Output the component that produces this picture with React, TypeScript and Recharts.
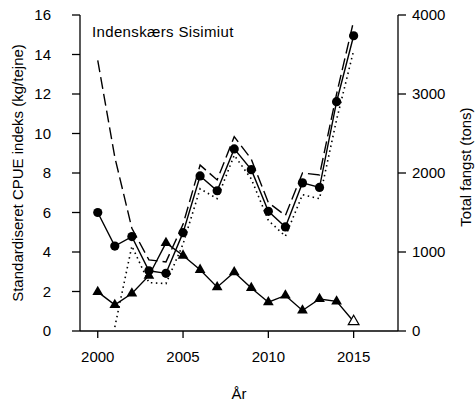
import React from 'react';
import { ComposedChart, Line, XAxis, YAxis, Label } from 'recharts';

const YEARS = [2000, 2001, 2002, 2003, 2004, 2005, 2006, 2007, 2008, 2009, 2010, 2011, 2012, 2013, 2014, 2015];
// standardised CPUE index (kg/tejne)
const CPUE = [6.0, 4.3, 4.78, 3.05, 2.92, 4.98, 7.85, 7.1, 9.22, 8.17, 6.06, 5.27, 7.5, 7.27, 11.61, 14.95];
const CPUE_UPPER = [13.7, 8.8, 5.2, 3.6, 3.5, 5.4, 8.4, 7.65, 9.84, 8.7, 6.5, 5.85, 8.0, 7.9, 12.0, 15.7];
const CPUE_LOWER = [null, 0.2, 4.3, 2.45, 2.4, 4.4, 7.2, 6.7, 8.9, 7.7, 5.6, 4.8, 6.9, 6.7, 10.7, 14.2];
// total catch (tons)
const CATCH = [495, 330, 475, 700, 1115, 955, 775, 555, 745, 545, 365, 450, 260, 405, 375, 120];

const YEAR_TICKS = [2000, 2005, 2010, 2015];
const CPUE_TICKS = [0, 2, 4, 6, 8, 10, 12, 14, 16];
const CATCH_TICKS = [0, 1000, 2000, 3000, 4000];

const data = YEARS.map((year, i) => ({
    year,
    cpue: CPUE[i],
    upper: CPUE_UPPER[i],
    lower: CPUE_LOWER[i],
    catch: CATCH[i],
}));

const FONT = '"Liberation Sans", Arial, sans-serif';
const axisStroke = { stroke: '#000', strokeWidth: 1.3 };
const tickText = { fill: '#000', fontSize: 15, fontFamily: FONT };

const CircleDot = (props: any) => {
    const { cx, cy, index } = props;
    if (cx == null || cy == null) return null;
    return <circle key={`c-${index}`} cx={cx} cy={cy} r={4.6} fill="#000" />;
};

// R-style triangle (pch 17 / pch 2 for the last, open one)
const TriangleDot = (props: any) => {
    const { cx, cy, index } = props;
    if (cx == null || cy == null) return null;
    const open = index === YEARS.length - 1;
    const r = 6.2;
    const xc = r * 0.866;
    const yc = r / 2;
    const pts = `${cx},${cy - r} ${cx + xc},${cy + yc} ${cx - xc},${cy + yc}`;
    return (
        <polygon
            key={`t-${index}`}
            points={pts}
            fill={open ? '#fff' : '#000'}
            stroke="#000"
            strokeWidth={open ? 1.2 : 0}
        />
    );
};

export default function App() {
    return (
        <div style={{ position: 'absolute', left: 0, top: 0, width: 475, height: 403, background: '#fff', fontFamily: FONT }}>
            <ComposedChart width={475} height={403} data={data} margin={{ top: 15, right: 0, bottom: 0, left: 0 }}>
                <XAxis
                    dataKey="year"
                    type="number"
                    domain={[1998.96, 2017.6]}
                    ticks={YEAR_TICKS}
                    allowDataOverflow
                    height={72}
                    tickSize={7}
                    tickMargin={13}
                    axisLine={axisStroke}
                    tickLine={axisStroke}
                    tick={tickText}
                >
                    <Label
                        content={({ viewBox }: any) => (
                            <text
                                x={viewBox.x + viewBox.width / 2}
                                y={viewBox.y + 68}
                                textAnchor="middle"
                                fontSize={15}
                                fontFamily={FONT}
                                fill="#000"
                            >
                                År
                            </text>
                        )}
                    />
                </XAxis>
                <YAxis
                    yAxisId="left"
                    width={80}
                    domain={[0, 16]}
                    ticks={CPUE_TICKS}
                    interval={0}
                    tickSize={8}
                    tickMargin={9}
                    axisLine={axisStroke}
                    tickLine={axisStroke}
                    tick={{ ...tickText, dx: -12 }}
                >
                    <Label
                        content={({ viewBox }: any) => {
                            const cx = viewBox.x + 17.5;
                            const cy = viewBox.y + viewBox.height / 2;
                            return (
                                <text
                                    x={cx}
                                    y={cy}
                                    transform={`rotate(-90, ${cx}, ${cy})`}
                                    textAnchor="middle"
                                    dominantBaseline="central"
                                    fontSize={15}
                                    fontFamily={FONT}
                                    fill="#000"
                                >
                                    Standardiseret CPUE indeks (kg/tejne)
                                </text>
                            );
                        }}
                    />
                </YAxis>
                <YAxis
                    yAxisId="right"
                    orientation="right"
                    width={77}
                    domain={[0, 4000]}
                    ticks={CATCH_TICKS}
                    interval={0}
                    tickSize={8}
                    tickMargin={6}
                    axisLine={axisStroke}
                    tickLine={axisStroke}
                    tick={tickText}
                >
                    <Label
                        content={({ viewBox }: any) => {
                            const cx = viewBox.x + 67;
                            const cy = viewBox.y + viewBox.height / 2 - 6;
                            return (
                                <text
                                    x={cx}
                                    y={cy}
                                    transform={`rotate(-90, ${cx}, ${cy})`}
                                    textAnchor="middle"
                                    dominantBaseline="central"
                                    fontSize={15}
                                    fontFamily={FONT}
                                    fill="#000"
                                >
                                    Total fangst (tons)
                                </text>
                            );
                        }}
                    />
                </YAxis>

                <Line
                    yAxisId="left"
                    type="linear"
                    dataKey="upper"
                    stroke="#000"
                    strokeWidth={1.4}
                    strokeDasharray="12 5"
                    dot={false}
                    activeDot={false}
                    isAnimationActive={false}
                />
                <Line
                    yAxisId="left"
                    type="linear"
                    dataKey="lower"
                    stroke="#000"
                    strokeWidth={1.6}
                    strokeDasharray="1.5 3.5"
                    dot={false}
                    activeDot={false}
                    isAnimationActive={false}
                />
                <Line
                    yAxisId="right"
                    type="linear"
                    dataKey="catch"
                    stroke="#000"
                    strokeWidth={1.4}
                    dot={<TriangleDot />}
                    activeDot={false}
                    isAnimationActive={false}
                />
                <Line
                    yAxisId="left"
                    type="linear"
                    dataKey="cpue"
                    stroke="#000"
                    strokeWidth={1.4}
                    dot={<CircleDot />}
                    activeDot={false}
                    isAnimationActive={false}
                />
            </ComposedChart>
            <div
                style={{
                    position: 'absolute',
                    left: 92,
                    top: 24,
                    fontSize: 15,
                    lineHeight: '15px',
                    letterSpacing: '0.35px',
                    color: '#000',
                    whiteSpace: 'nowrap',
                }}
            >
                Indenskærs Sisimiut
            </div>
        </div>
    );
}
